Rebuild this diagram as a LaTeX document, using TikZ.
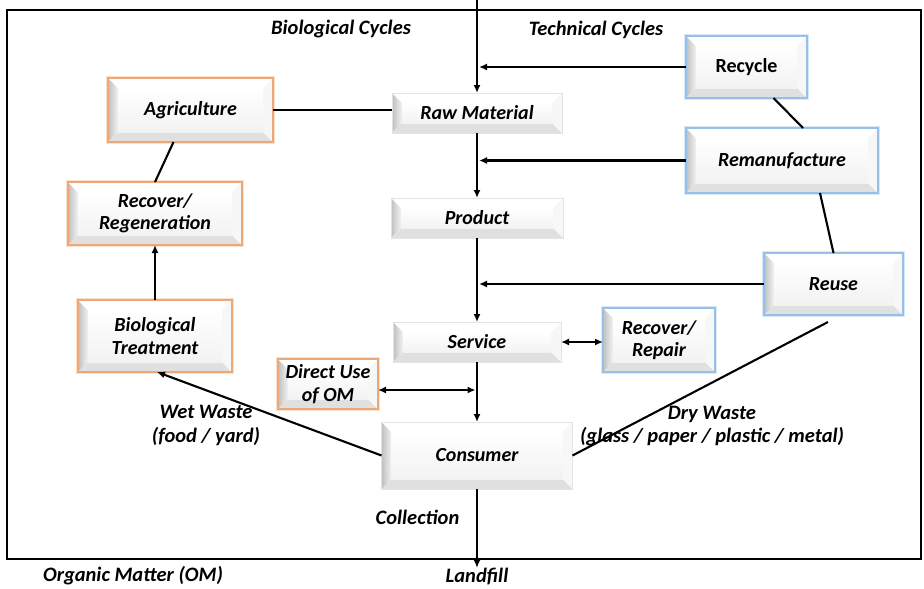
\documentclass[tikz,border=0pt]{standalone}
\usepackage{fontspec}
\setmainfont{Carlito}
\usetikzlibrary{arrows.meta,calc}

\definecolor{orng}{RGB}{238,168,118}
\definecolor{blu}{RGB}{150,192,232}

\tikzset{
 lbl/.style={font=\fontsize{20.5}{23.5}\selectfont\bfseries\itshape, align=center, inner sep=1pt},
 bev/.style={inner sep=0pt, outer sep=0pt, align=center, font=\fontsize{20}{22.5}\selectfont\bfseries\itshape, fill=white,
   path picture={
     \coordinate (pSW) at (path picture bounding box.south west);
     \coordinate (pNW) at (path picture bounding box.north west);
     \coordinate (pNE) at (path picture bounding box.north east);
     \coordinate (pSE) at (path picture bounding box.south east);
     \fill[left color=gray!50, right color=gray!10] (pSW) -- (pNW) -- ([xshift=10pt,yshift=-10pt]pNW) -- ([xshift=10pt,yshift=10pt]pSW) -- cycle;
     \fill[gray!24] (pSW) -- (pSE) -- ([xshift=-10pt,yshift=10pt]pSE) -- ([xshift=10pt,yshift=10pt]pSW) -- cycle;
     \fill[white] (pNW) -- (pNE) -- ([xshift=-10pt,yshift=-10pt]pNE) -- ([xshift=10pt,yshift=-10pt]pNW) -- cycle;
     \fill[gray!6] (pNE) -- (pSE) -- ([xshift=-10pt,yshift=10pt]pSE) -- ([xshift=-10pt,yshift=-10pt]pNE) -- cycle;
     \fill[top color=white, bottom color=gray!10] ([xshift=10pt,yshift=10pt]pSW) rectangle ([xshift=-10pt,yshift=-10pt]pNE);
   }},
 plainbox/.style={bev, draw=gray!22, line width=0.6pt},
 obox/.style={bev, draw=orng, line width=2pt, preaction={draw=orng!35, line width=4.5pt}},
 bbox/.style={bev, draw=blu, line width=2pt, preaction={draw=blu!35, line width=4.5pt}},
 ln/.style={line width=2.1pt},
 arr/.style={ln, -{Latex[length=8pt,width=7pt]}},
 darr/.style={ln, {Latex[length=8pt,width=7pt]}-{Latex[length=8pt,width=7pt]}},
}

\begin{document}
\begin{tikzpicture}[x=1pt,y=-1pt]
\useasboundingbox (0,0) rectangle (924,589);
\draw[line width=2.8pt] (7,10) rectangle (921,559);

% boxes
\node[obox, minimum width=165pt, minimum height=64pt] (agri) at (190.5,110) {Agriculture};
\node[plainbox, minimum width=170pt, minimum height=40pt] (raw) at (477,113) {Raw Material};
\node[bbox, minimum width=121pt, minimum height=62pt, font=\fontsize{20}{22.5}\selectfont\bfseries] (recyc) at (746.5,67) {Recycle};
\node[bbox, minimum width=192pt, minimum height=65pt] (reman) at (782,160.5) {Remanufacture};
\node[obox, minimum width=174pt, minimum height=63pt] (regen) at (155,213.5) {Recover/\\Regeneration};
\node[plainbox, minimum width=172pt, minimum height=40pt] (prod) at (477,218) {Product};
\node[bbox, minimum width=139pt, minimum height=62pt] (reuse) at (833.5,284) {Reuse};
\node[obox, minimum width=154pt, minimum height=72pt] (biot) at (155,336) {Biological\\Treatment};
\node[plainbox, minimum width=168pt, minimum height=40pt] (serv) at (477,342) {Service};
\node[bbox, minimum width=112pt, minimum height=64pt] (repair) at (659,340) {Recover/\\Repair};
\node[obox, minimum width=100pt, minimum height=50pt] (direct) at (328,384) {Direct Use\\of OM};
\node[plainbox, minimum width=191pt, minimum height=67pt] (cons) at (477,455.5) {Consumer};

% labels
\node[lbl] (bc) at (341,29) {Biological Cycles};
\node[lbl] (tc) at (596,30) {Technical Cycles};
\node[lbl] (wet) at (206,425.5) {Wet Waste\\(food / yard)};
\node[lbl] (dry) at (712,426) {Dry Waste\\(glass / paper / plastic / metal)};
\node[lbl] (col) at (417.5,517) {Collection};
\node[lbl, inner sep=0pt] (om) at (133,576) {Organic Matter (OM)};
\node[lbl, inner sep=0pt] (lf) at (477,576.5) {Landfill};

% helper coordinates
\coordinate (top) at (477,0);
\coordinate (spR) at (479,0);
\coordinate (spL) at (475.5,0);
\coordinate (dwend) at (828,322);

% connectors
\draw[arr] (top) -- (raw.north);
\draw[ln] (agri.east) -- (agri.east -| raw.west);
\draw[arr] (recyc.west) -- (recyc.west -| spR);
\draw[ln] ([xshift=27pt]recyc.south) -- ([xshift=21pt]reman.north);
\draw[arr] (raw.south) -- (prod.north);
\draw[arr] (reman.west) -- (reman.west -| spR);
\draw[ln] ([xshift=38pt]reman.south) -- (reuse.north);
\draw[arr] (prod.south) -- (serv.north);
\draw[arr] (reuse.west) -- (reuse.west -| spR);
\draw[darr] (serv.east) -- (serv.east -| repair.west);
\draw[arr] (serv.south) -- (cons.north);
\draw[darr] ([yshift=-6pt]direct.east) -- ([yshift=-6pt]direct.east -| spL);
\draw[ln] ([xshift=-17pt]agri.south) -- (regen.north);
\draw[arr] (biot.north) -- (regen.south);
\draw[arr] (cons.west) -- ([xshift=2pt]biot.south);
\draw[ln] (cons.east) -- (dwend);
\draw[arr] (cons.south) -- (lf.north);
\end{tikzpicture}
\end{document}
